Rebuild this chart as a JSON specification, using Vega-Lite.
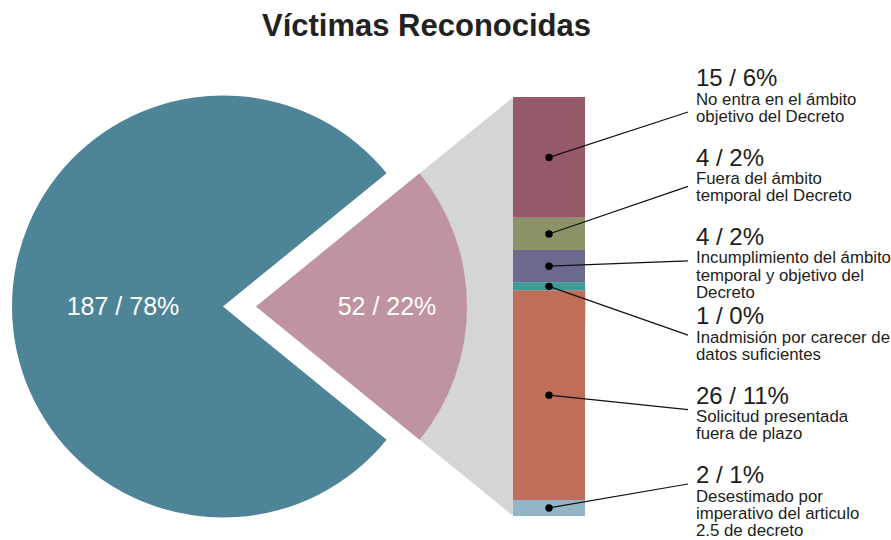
{
  "$schema": "https://vega.github.io/schema/vega-lite/v6.json",
  "width": 891,
  "height": 419,
  "autosize": {"type": "none"},
  "padding": {"left": 0, "right": 0, "top": 97, "bottom": 24},
  "background": "white",
  "config": {"view": {"stroke": null}, "text": {"font": "Liberation Sans"}},
  "title": {
    "text": "Víctimas Reconocidas",
    "font": "Liberation Sans",
    "fontSize": 31,
    "fontWeight": "bold",
    "color": "#222222",
    "anchor": "middle",
    "frame": "group",
    "baseline": "alphabetic",
    "dx": -19,
    "offset": 0
  },
  "datasets": {
    "pastel": [
      {"grupo": "No reconocidas", "valor": 52, "etiqueta": "52 / 22%", "orden": 1},
      {"grupo": "Reconocidas", "valor": 187, "etiqueta": "187 / 78%", "orden": 2}
    ],
    "motivos": [
      {"orden": 1, "valor": 15, "cifra": "15 / 6%", "motivo": "No entra en el ámbito\nobjetivo del Decreto"},
      {"orden": 2, "valor": 4, "cifra": "4 / 2%", "motivo": "Fuera del ámbito\ntemporal del Decreto"},
      {"orden": 3, "valor": 4, "cifra": "4 / 2%", "motivo": "Incumplimiento del ámbito\ntemporal y objetivo del\nDecreto"},
      {"orden": 4, "valor": 1, "cifra": "1 / 0%", "motivo": "Inadmisión por carecer de\ndatos suficientes"},
      {"orden": 5, "valor": 26, "cifra": "26 / 11%", "motivo": "Solicitud presentada\nfuera de plazo"},
      {"orden": 6, "valor": 2, "cifra": "2 / 1%", "motivo": "Desestimado por\nimperativo del articulo\n2.5 de decreto"}
    ]
  },
  "resolve": {"scale": {"x": "independent", "color": "independent"}},
  "layer": [
    {
      "data": {"name": "pastel"},
      "transform": [
        {"stack": "valor", "groupby": [], "sort": [{"field": "orden", "order": "ascending"}], "as": ["t0", "t1"]},
        {"filter": "datum.grupo === 'No reconocidas'"}
      ],
      "mark": {"type": "arc", "outerRadius": 330, "fill": "#d4d5d7"},
      "encoding": {
        "theta": {"field": "t0", "type": "quantitative", "scale": {"domain": [0, 239], "range": [0.88733, 7.17052]}},
        "theta2": {"field": "t1"},
        "x": {"field": "grupo", "type": "nominal", "axis": null,
              "scale": {"type": "point", "domain": ["Reconocidas", "No reconocidas"], "range": [223, 256], "padding": 0}}
      }
    },
    {
      "data": {"name": "pastel"},
      "transform": [
        {"stack": "valor", "groupby": [], "sort": [{"field": "orden", "order": "ascending"}], "as": ["t0", "t1"]}
      ],
      "mark": {"type": "arc", "outerRadius": 211},
      "encoding": {
        "theta": {"field": "t0", "type": "quantitative", "scale": {"domain": [0, 239], "range": [0.88733, 7.17052]}},
        "theta2": {"field": "t1"},
        "x": {"field": "grupo", "type": "nominal", "axis": null,
              "scale": {"type": "point", "domain": ["Reconocidas", "No reconocidas"], "range": [223, 256], "padding": 0}},
        "color": {"field": "grupo", "type": "nominal", "legend": null,
                  "scale": {"domain": ["Reconocidas", "No reconocidas"], "range": ["#4e8497", "#bf939f"]}}
      }
    },
    {
      "data": {"name": "pastel"},
      "mark": {"type": "text", "fontSize": 25, "color": "white", "align": "center", "baseline": "middle"},
      "encoding": {
        "x": {"field": "grupo", "type": "nominal", "axis": null,
              "scale": {"type": "point", "domain": ["Reconocidas", "No reconocidas"], "range": [123, 387], "padding": 0}},
        "text": {"field": "etiqueta"}
      }
    },
    {
      "data": {"name": "motivos"},
      "transform": [
        {"stack": "valor", "groupby": [], "sort": [{"field": "orden", "order": "descending"}], "as": ["y0", "y1"]},
        {"calculate": "(datum.y0 + datum.y1) / 2", "as": "medio"},
        {"calculate": "50.14 - 9.233 * (datum.orden - 1)", "as": "extremo"},
        {"calculate": "53.35 - 9.854 * (datum.orden - 1)", "as": "base"}
      ],
      "layer": [
        {
          "mark": {"type": "bar", "width": 72},
          "encoding": {
            "x": {"datum": "barra", "type": "nominal", "axis": null,
                  "scale": {"type": "point", "domain": ["barra", "etiqueta"], "range": [549, 688], "padding": 0}},
            "y": {"field": "y0", "type": "quantitative", "axis": null, "scale": {"domain": [0, 52], "nice": false, "zero": false}},
            "y2": {"field": "y1"},
            "color": {"field": "orden", "type": "ordinal", "legend": null,
                      "scale": {"domain": [1, 2, 3, 4, 5, 6], "range": ["#955967", "#8b9268", "#6a6a8e", "#3e9b96", "#c06e59", "#94b5c6"]}}
          }
        },
        {
          "mark": {"type": "rule", "color": "#111111", "strokeWidth": 1.2},
          "encoding": {
            "x": {"datum": "barra", "type": "nominal", "axis": null},
            "x2": {"datum": "etiqueta"},
            "y": {"field": "medio", "type": "quantitative", "axis": null},
            "y2": {"field": "extremo"}
          }
        },
        {
          "mark": {"type": "point", "filled": true, "size": 55, "color": "#000000", "opacity": 1},
          "encoding": {
            "x": {"datum": "barra", "type": "nominal", "axis": null},
            "y": {"field": "medio", "type": "quantitative", "axis": null}
          }
        },
        {
          "mark": {"type": "text", "fontSize": 24, "color": "#1d1d1b", "align": "left", "baseline": "alphabetic", "dx": 8},
          "encoding": {
            "x": {"datum": "etiqueta", "type": "nominal", "axis": null},
            "y": {"field": "base", "type": "quantitative", "axis": null},
            "text": {"field": "cifra"}
          }
        },
        {
          "mark": {"type": "text", "fontSize": 16.8, "color": "#1d1d1b", "align": "left", "baseline": "alphabetic", "dx": 8, "dy": 18.5, "lineBreak": "\n", "lineHeight": 17.2},
          "encoding": {
            "x": {"datum": "etiqueta", "type": "nominal", "axis": null},
            "y": {"field": "base", "type": "quantitative", "axis": null},
            "text": {"field": "motivo"}
          }
        }
      ]
    }
  ]
}
